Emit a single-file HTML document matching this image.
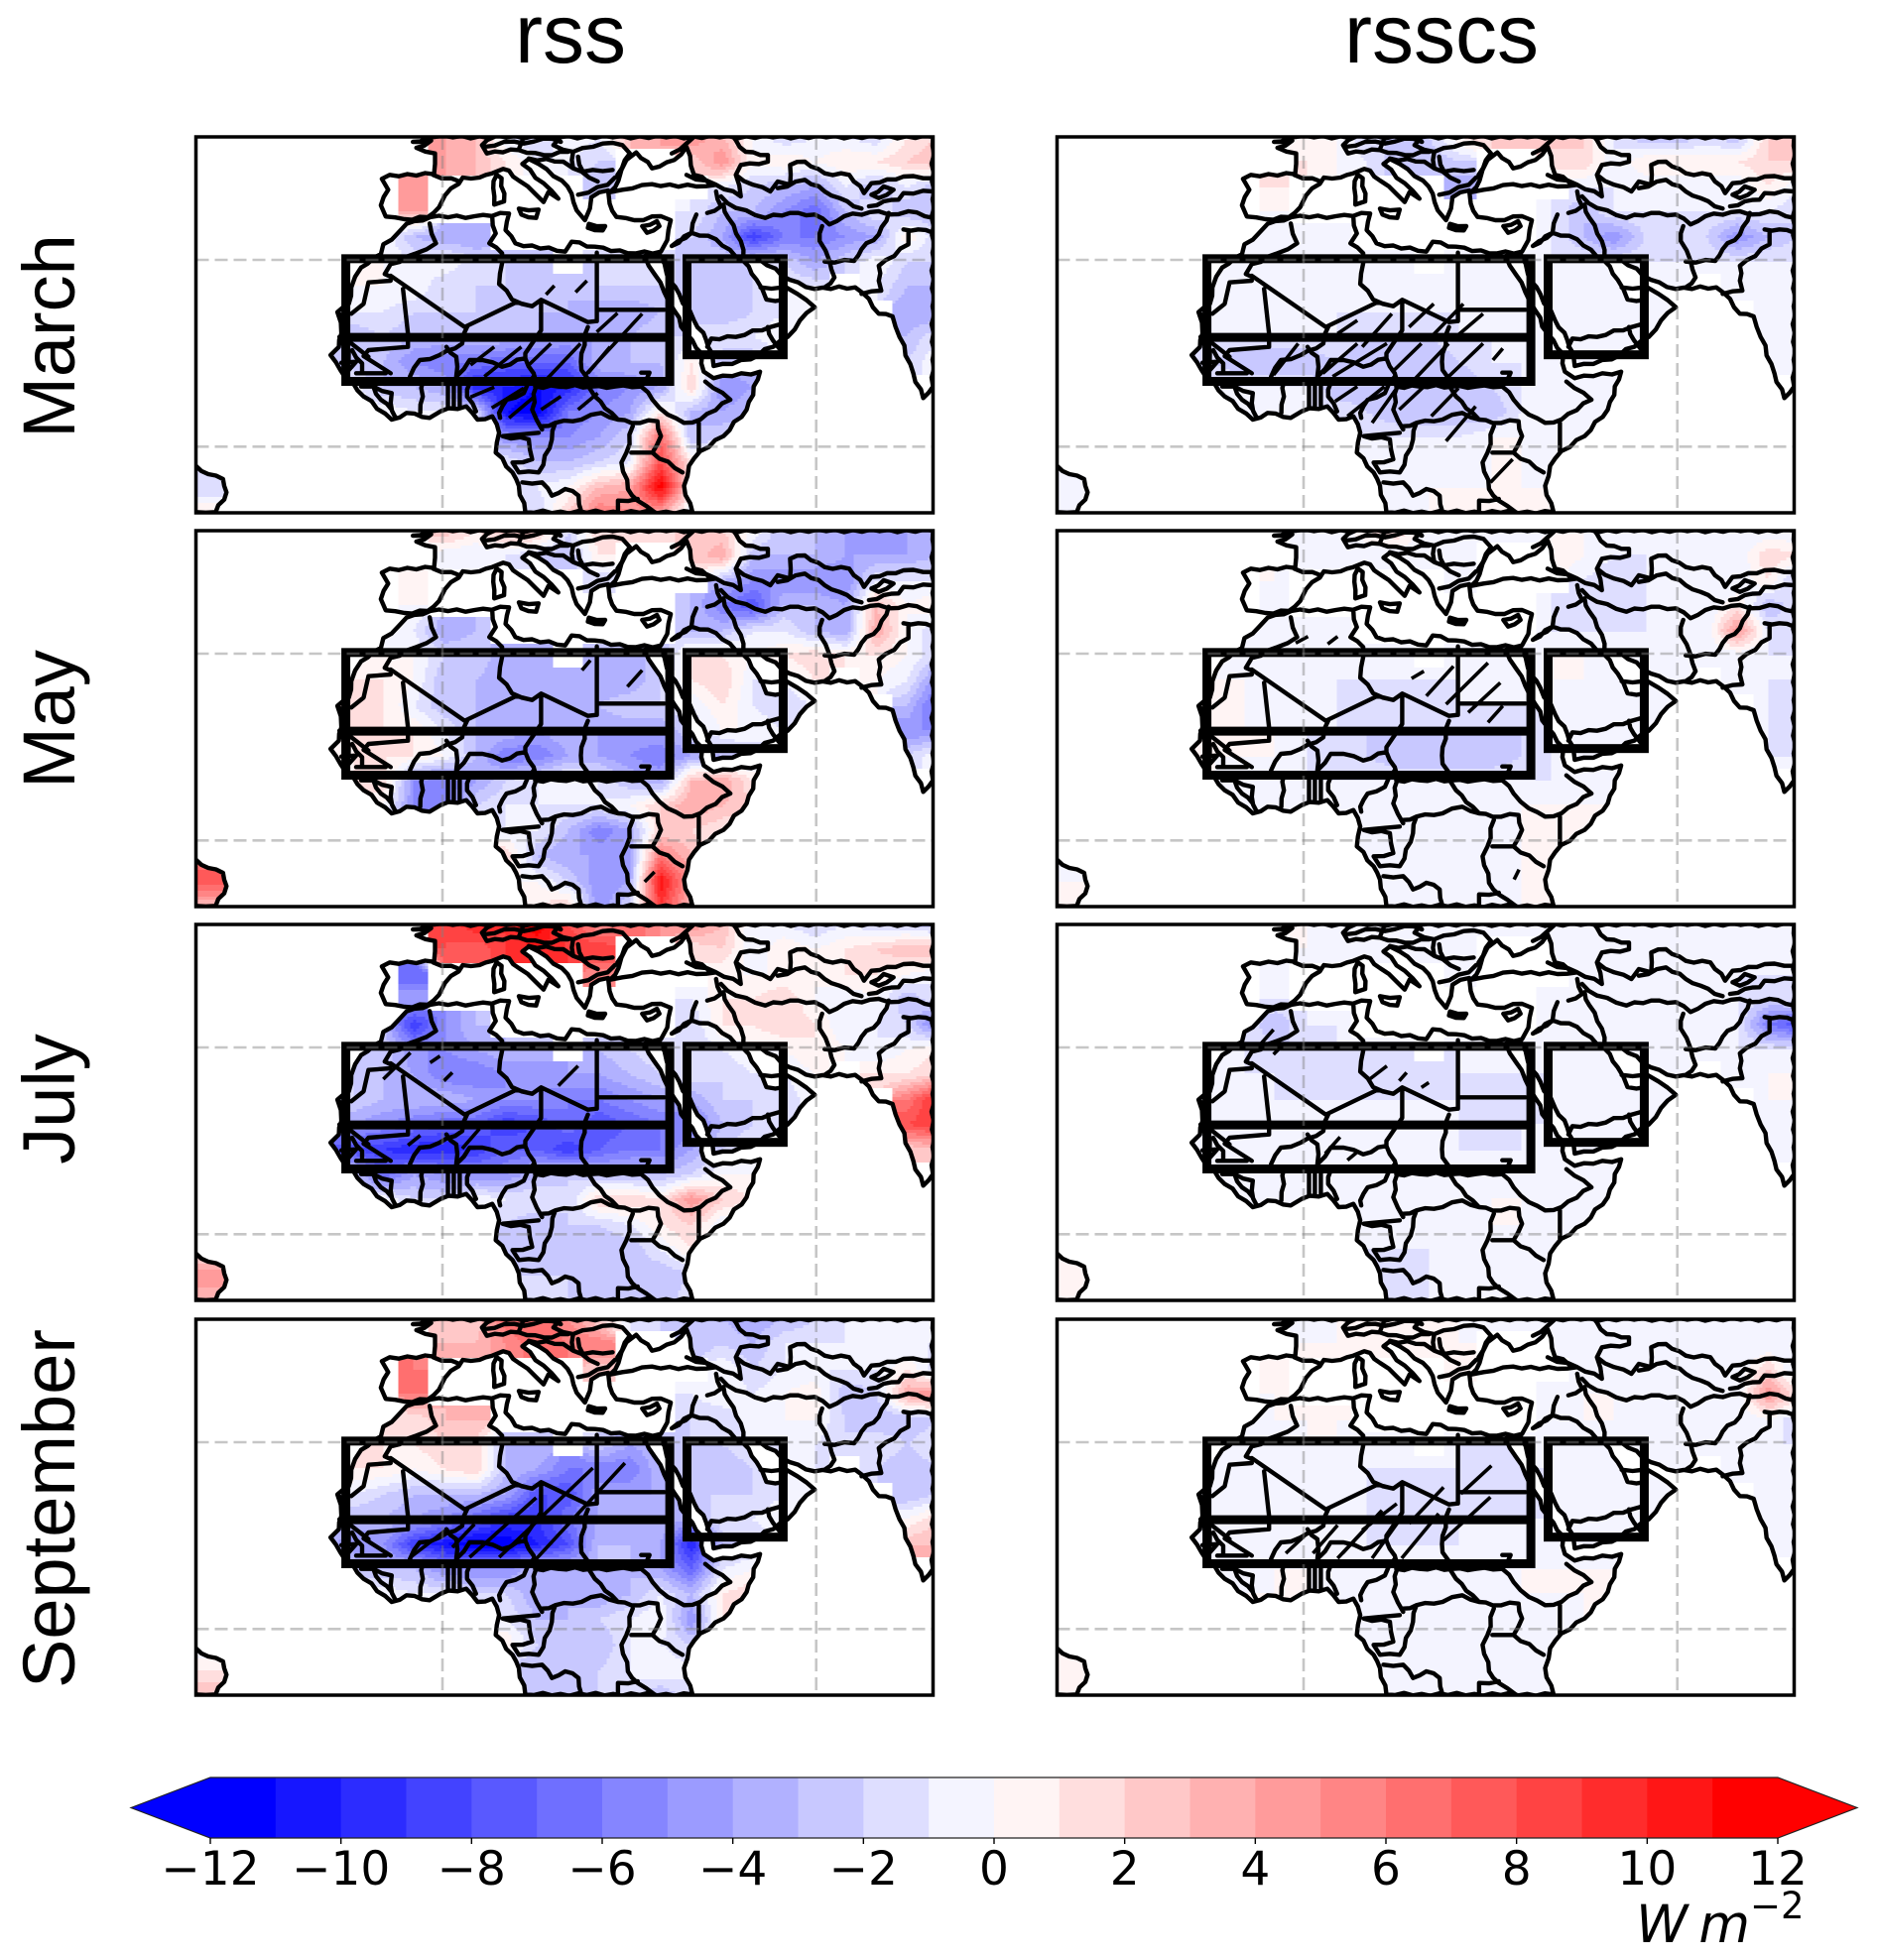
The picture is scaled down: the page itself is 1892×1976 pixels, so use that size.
<!DOCTYPE html>
<html lang="en">
<head>
<meta charset="utf-8">
<title>rss and rsscs seasonal anomaly maps</title>
<style>
html,body{margin:0;padding:0;background:#fff;}
svg{display:block;}
.title{font-family:"Liberation Sans",sans-serif;font-size:84px;fill:#000;text-anchor:middle;}
.rowlab{font-family:"Liberation Sans",sans-serif;font-size:74px;fill:#000;text-anchor:middle;}
.tick{font-family:"DejaVu Sans",sans-serif;font-size:47px;fill:#000;text-anchor:middle;}
</style>
</head>
<body>
<svg id="figure" xmlns="http://www.w3.org/2000/svg" width="1892" height="1976" viewBox="0 0 1892 1976">
  <rect x="0" y="0" width="1892" height="1976" fill="#fff"/>
  <text class="title" x="575" y="63">rss</text>
  <text class="title" x="1453" y="63">rsscs</text>
  <text class="rowlab" transform="translate(75,339) rotate(-90)">March</text>
  <text class="rowlab" transform="translate(75,725) rotate(-90)">May</text>
  <text class="rowlab" transform="translate(75,1108) rotate(-90)">July</text>
  <text class="rowlab" transform="translate(75,1521) rotate(-90)">September</text>
  <g id="panels"></g>
  <g id="colorbar"></g>
  <text x="1649" y="1958" font-family="DejaVu Sans, sans-serif" font-size="53" fill="#000"><tspan font-style="italic">W</tspan><tspan font-style="italic" dx="11">m</tspan><tspan dy="-24" font-size="37">−2</tspan></text>
</svg>
<script>
const N = null;

/* ---------- gridded anomaly fields, W m-2 (rows north to south, columns west to east) ---------- */
const rssMarch = [
[N,N,N,N,4,3,-1,-2,0,-1,3,4,5,3,0,-2,-1,-1,-2,1,2],
[N,N,N,N,4,3,1,-1,-1,-2,N,N,2,5,0,1,0,1,1,2,3],
[N,N,N,4,N,N,N,N,N,-3,N,N,N,-1,-2,-3,-4,-1,-3,-1,-3],
[N,N,N,4,N,N,N,N,N,N,N,N,-1,-3,-3,-5,-7,-3,-1,-3,-3],
[N,N,0,-3,-4,-4,N,N,N,N,N,N,-2,-4,-9,-6,-6,-5,-4,1,-2],
[N,0,0,-1,0,-2,-2,-3,N,-2,-2,-1,-3,-2,-2,-2,-4,-2,0,-2,-2],
[0,0,0,0,-2,-2,-2,-3,-3,-2,-2,-2,-2,-3,-2,-1,-1,N,-1,-3,-3],
[-1,-1,-1,-2,-2,-2,-3,-3,-3,-4,-4,-3,-2,-3,-2,-1,-1,N,N,-4,-4],
[-3,-3,-2,-3,-3,-3,-3,-3,-4,-4,-3,-2,-2,-1,-1,0,N,N,N,-3,-1],
[-3,-3,-3,-5,-6,-6,-7,-7,-7,-3,-3,-3,1,-3,-3,N,N,N,N,-2,0],
[0,0,-3,-3,-4,-10,-10,-11,-10,-6,-5,-4,2,-5,-4],
[N,N,0,-1,-1,-1,-11,-12,-6,-5,-4,1,-3,-4,-3],
[N,N,N,N,N,-1,-5,-5,-5,-4,-2,7,-3,-2,-1],
[-2,N,N,N,N,N,-1,-3,-3,-2,-1,8,1,-1],
[-2,N,N,N,N,N,-1,-1,0,3,4,12,1,1],
[1,N,N,N,N,N,-1,-2,2,6,5,4,-1,-1]
];
const rssMay = [
[N,N,N,N,3,1,3,3,-2,2,2,1,3,2,0,-3,-3,-4,-5,-4,-3],
[N,N,N,1,-1,-1,-1,-2,-3,1,N,N,2,4,-3,-3,-3,-4,-4,-4,-3],
[N,N,N,0,N,N,N,N,N,-2,N,N,N,-3,-5,-5,-5,-5,-1,-1,-1],
[N,N,N,0,N,N,N,N,N,N,N,N,-3,-6,-8,-3,-3,-4,3,0,1],
[N,N,0,-1,-4,-3,N,N,N,N,N,N,-3,-3,-1,-1,-3,-4,4,0,-2],
[N,1,0,0,-2,-2,-4,-4,N,-3,-3,-3,1,1,0,1,2,1,1,0,-2],
[1,1,1,0,-3,-3,-4,-4,-3,-4,-4,-2,1,2,-1,-1,1,N,0,-1,-5],
[1,1,1,-1,-3,-3,-4,-4,-4,-3,-2,-2,-1,1,-1,-2,-1,N,N,-3,-7],
[1,1,1,1,-1,-3,-3,-4,-3,-4,-4,-4,-2,0,0,-1,0,N,N,-5,-5],
[0,1,1,1,0,-3,-6,-6,-4,-4,-5,-6,-4,-3,-2,N,N,N,N,-2,0],
[1,1,2,-5,-6,-4,-2,-1,0,-1,-3,-4,3,4,1],
[N,N,0,-5,-6,-2,-1,-1,-1,-1,0,2,4,3,2],
[N,N,N,N,N,-1,-1,-1,-3,-6,-4,2,2,1,0],
[6,N,N,N,N,2,2,-3,-4,-4,-4,6,3,1],
[8,N,N,N,N,N,0,0,-2,-5,-4,11,4,1],
[3,N,N,N,N,N,1,1,2,-5,-2,9,3,1]
];
const rssJuly = [
[N,N,N,N,8,10,9,12,8,5,7,5,5,3,-1,-1,-2,-1,-2,-2,-3],
[N,N,N,N,8,7,9,10,9,9,N,N,1,2,-1,1,0,1,2,3,3],
[N,N,N,-7,N,N,N,N,N,5,N,N,N,0,0,0,0,1,1,0,-1],
[N,N,N,-4,N,N,N,N,N,N,N,N,-1,1,1,2,0,-1,0,-3,-1],
[N,N,-3,-9,-5,-3,N,N,N,N,N,N,-2,1,1,2,1,-1,-1,-2,-6],
[N,-2,-2,-5,-5,-4,-3,-3,N,-3,-2,-1,-2,-1,0,0,1,0,-1,0,1],
[-2,-2,-3,-4,-6,-6,-5,-5,-4,-4,-3,-2,-1,-2,-1,-1,0,N,1,1,2],
[-2,-2,-3,-3,-3,-4,-5,-5,-6,-6,-5,-4,-4,-2,-2,-2,0,N,N,6,10],
[-4,-4,-5,-6,-7,-7,-9,-8,-6,-8,-7,-6,-6,-3,-2,-1,-1,N,N,8,9],
[-8,-8,-9,-10,-10,-9,-7,-7,-9,-7,-6,-6,-4,-2,-1,N,N,N,N,2,3],
[-1,-2,-7,-4,-5,-5,-5,-3,-2,-3,-3,-3,-2,0,0],
[N,N,0,-2,-2,0,-1,-1,-2,2,2,1,5,2,1],
[N,N,N,N,N,N,-2,-3,-2,-2,-1,1,2,-1,-1],
[1,N,N,N,N,N,-3,-3,-3,-3,-3,-1,1,-1],
[5,N,N,N,N,N,-2,-2,-2,-3,-2,-3,-2,-1],
[3,N,N,N,N,N,-2,-2,-2,-2,-2,-3,-1,-1]
];
const rssSeptember = [
[N,N,N,N,2,2,7,7,5,2,-1,-2,-2,-3,-4,-3,-2,-1,-1,-1,-1],
[N,N,N,N,3,3,5,7,6,6,N,N,-3,-2,-3,-1,-1,-1,-1,-1,-1],
[N,N,N,6,N,N,N,N,N,2,N,N,N,0,-2,-1,-1,-1,-1,1,-2],
[N,N,N,6,N,N,N,N,N,N,N,N,-1,0,-1,0,1,-3,-2,4,5],
[N,N,1,1,3,3,N,N,N,N,N,N,-2,-2,0,0,0,-2,-3,-3,-2],
[N,1,1,1,2,2,-3,-3,N,-2,-4,-3,-2,-2,-1,-1,-1,-2,-1,-2,-1],
[1,1,1,0,1,2,-3,-4,-6,-6,-6,-3,-2,-3,-2,-1,-1,N,-2,-3,-2],
[-1,-1,-2,-3,-3,-3,-4,-8,-8,-4,-4,-4,-2,-2,-2,-1,-1,N,N,-3,-2],
[-3,-3,-3,-4,-5,-7,-9,-9,-6,-4,-4,-3,-4,-1,-1,0,N,N,N,0,2],
[-3,-5,-5,-9,-11,-12,-12,-10,-8,-3,-3,-4,-10,-3,-2,N,N,N,N,3,3],
[-1,-2,-3,-3,-5,-5,-5,-3,-3,-3,-3,-4,-7,-1,0],
[N,N,0,-1,-1,-2,-2,-4,-3,-4,-3,-1,-3,1,2],
[N,N,N,N,N,N,-1,-3,-3,-2,-1,0,-5,1,1],
[-1,N,N,N,N,N,1,-2,-2,-3,-1,-1,-2,-1],
[1,N,N,N,N,N,-3,-3,-3,-2,-1,0,-1,-1],
[3,N,N,N,N,N,-3,-3,-2,-2,-1,-3,-1,-1]
];
const rsscsMarch = [
[N,N,N,N,0,0,-2,-2,-2,1,2,3,3,2,-1,-3,-3,-2,-3,2,3],
[N,N,N,N,1,0,-1,-3,-3,-2,N,N,1,2,-1,1,1,1,1,2,2],
[N,N,N,1,N,N,N,N,N,-4,N,N,N,-1,-1,-1,-1,-1,-1,1,-1],
[N,N,N,0,N,N,N,N,N,N,N,N,-1,-3,-1,-1,-1,-1,-1,-1,-2],
[N,N,-1,-1,-1,-1,N,N,N,N,N,N,-1,-3,-5,-2,-1,-2,-5,-3,-2],
[N,-1,-1,-1,-1,-1,-1,-1,N,-1,-1,-1,-1,-1,-1,-1,-1,-1,-1,-1,-1],
[-1,-1,-1,-1,-1,-1,-1,-1,-1,-1,-1,-1,-1,-1,-1,-1,-1,N,-1,-1,-1],
[-1,-1,-1,-1,-1,-1,-1,-1,-1,-1,-1,-1,-1,-1,-1,-1,-1,N,N,-1,-1],
[-1,-1,-1,-1,-1,-1,-2,-2,-2,-1,-1,-1,-1,-1,-1,-1,-1,N,N,-1,-1],
[-2,-2,-3,-3,-3,-2,-3,-3,-3,-2,-1,-1,-1,-1,-1,N,N,N,N,-1,-1],
[-1,-1,-1,-1,-1,-3,-3,-2,-3,-3,-2,-1,0,-1,-1],
[N,N,-1,-1,-1,-1,-2,-3,-3,-3,-3,-1,-1,-1,-1],
[N,N,N,N,N,N,-1,-1,-1,-1,0,0,-1,-1,-1],
[-1,N,N,N,N,N,-1,-1,-1,-1,0,0,-1,-1],
[-1,N,N,N,N,N,-1,-1,0,0,0,0,0,0],
[-1,N,N,N,N,N,-1,-1,0,0,0,0,0,0]
];
const rsscsMay = [
[N,N,N,N,-1,-1,1,2,-1,-1,-1,-1,0,0,-1,-1,-1,-1,-1,-1,-1],
[N,N,N,0,-1,-1,-1,-1,-1,-1,N,N,1,0,-1,-1,-1,-1,-1,2,1],
[N,N,N,0,N,N,N,N,N,-1,N,N,N,-1,-2,-1,-1,-1,-1,1,-3],
[N,N,N,-1,N,N,N,N,N,N,N,N,-1,-2,-2,-1,-1,-1,1,-3,-1],
[N,N,-1,-1,-1,-1,N,N,N,N,N,N,-1,-1,-1,-1,-1,-1,5,-1,-2],
[N,-1,-1,-1,-1,-1,-1,-1,N,-1,-1,-1,0,0,0,-1,-1,-1,-1,-1,-1],
[0,0,0,-1,-1,-1,-1,-1,-1,-1,-1,-1,0,0,-1,-1,-1,N,-1,-1,-1],
[0,0,0,-1,-1,-1,-2,-2,-2,-1,-1,-1,-1,0,-1,-1,-1,N,N,-1,-2],
[0,0,0,0,-1,-1,-2,-2,-2,-2,-2,-2,-1,-1,-1,-1,-1,N,N,-1,-2],
[0,0,0,0,-1,-2,-2,-3,-3,-3,-3,-2,-1,-1,-1,N,N,N,N,-1,-1],
[0,0,-1,-1,-1,-1,-1,-1,-1,-1,-1,-1,-1,-1,-1],
[N,N,-1,-1,-1,-1,-1,0,-1,-1,-1,0,0,0,0],
[N,N,N,N,N,N,-1,0,-1,-1,-1,0,0,0,0],
[-1,N,N,N,N,N,0,-1,-1,-1,-1,0,0,0],
[0,N,N,N,N,N,-1,-1,-1,-1,-1,0,0,0],
[0,N,N,N,N,N,-1,0,-1,-1,0,0,0,0]
];
const rsscsJuly = [
[N,N,N,N,0,0,0,-1,-1,-1,0,-1,-1,0,-1,-1,-1,-1,-1,-1,-1],
[N,N,N,N,0,-1,-1,-1,-1,-1,N,N,-1,-1,-1,-1,-1,-1,-1,-1,-1],
[N,N,N,-1,N,N,N,N,N,-1,N,N,N,-1,-1,-1,-1,-1,-1,-1,-1],
[N,N,N,-1,N,N,N,N,N,N,N,N,-1,-1,-1,0,-1,0,-1,-2,-1],
[N,N,-1,-3,-1,-1,N,N,N,N,N,N,-1,-1,0,-1,-1,-1,-1,-6,-8],
[N,-1,-1,-2,-2,-1,-1,-1,N,-1,-1,-1,-1,-1,-1,-1,-1,-1,-1,-1,-1],
[-1,-1,-1,-1,-2,-2,-1,-2,-2,-1,-1,-1,-1,-1,-1,-1,-1,N,-1,0,0],
[-1,-1,-1,-1,-1,-1,-1,-1,-1,-1,-2,-2,-1,-1,-1,-1,-1,N,N,0,0],
[-1,-1,-1,-1,-1,-1,-1,-1,-1,-1,-2,-1,-1,-1,-1,-1,-1,N,N,-1,0],
[-1,-1,-1,-1,-1,-1,-1,-1,-1,-1,-1,-1,-1,-1,-1,N,N,N,N,-1,-1],
[-1,-1,-1,-1,-1,-1,0,-1,-1,-1,-1,-1,-1,-1,-1],
[N,N,-1,-1,-1,0,0,-1,-1,-1,0,0,-1,-1,-1],
[N,N,N,N,N,N,-1,-1,-1,-1,0,0,0,-1,-1],
[0,N,N,N,N,N,-1,-1,-1,-1,-1,-1,-1,-1],
[0,N,N,N,N,N,-1,-2,-1,-1,-1,-1,-1,-1],
[0,N,N,N,N,N,-1,-1,-1,-1,-1,-1,-1,-1]
];
const rsscsSeptember = [
[N,N,N,N,-1,0,0,0,0,0,-1,-1,-1,-1,-1,-1,-1,0,-1,0,-1],
[N,N,N,N,0,0,0,0,0,0,N,N,-1,-1,-1,0,-1,-1,-1,-1,-1],
[N,N,N,0,N,N,N,N,N,0,N,N,N,-1,0,-1,-1,-1,-1,2,-2],
[N,N,N,0,N,N,N,N,N,N,N,N,-1,0,0,-1,-1,-1,-1,5,1],
[N,N,-1,0,0,0,N,N,N,N,N,N,-1,0,0,-1,-1,-1,-1,0,-2],
[N,-1,-1,-1,0,0,-1,-1,N,-1,-1,-1,-1,-1,-1,-1,-1,-1,-1,-1,-1],
[-1,0,0,-1,-1,-1,-1,-1,-1,-1,-2,-1,-1,-1,-1,-1,-1,N,-1,0,0],
[-1,-1,-1,-1,-1,-1,-1,-2,-2,-2,-2,-2,-1,-1,-1,-1,-1,N,N,-1,-1],
[-1,-1,-1,-1,-1,-1,-1,-2,-2,-1,-1,-1,-1,-1,-1,-1,N,N,N,-1,-1],
[-1,-1,-1,-1,-1,-1,-1,-1,-1,-1,-1,-1,-1,-1,-1,N,N,N,N,-1,-1],
[0,0,-1,0,0,-1,-1,-1,-1,-1,-1,0,0,0,0],
[N,N,0,0,0,-1,-1,-1,-1,-1,-1,0,0,0,0],
[N,N,N,N,N,N,-1,-1,-1,-1,-1,-1,-1,0,0],
[0,N,N,N,N,N,0,-1,-1,-1,-1,-1,-1,-1],
[0,N,N,N,N,N,-1,-1,-1,-1,0,-1,-1,-1],
[0,N,N,N,N,N,-1,-1,-1,-1,-1,-1,-1,-1]
];

/* ---------- significance hatching, map units [x1,y1,x2,y2] ---------- */
const hatchRssMarch = [[762,505,745,532],[828,490,805,525],[890,588,848,645],[940,590,825,775],[640,690,592,745],[695,690,620,780],[755,680,710,745],[815,680,745,790],[875,690,830,770],[640,812,592,842],[700,815,635,875],[722,840,670,905],[775,840,735,880],[850,830,810,880]];
const hatchRssMay = [[835,447,818,477],[940,477,910,527],[965,1087,945,1117]];
const hatchRssJuly = [[530,453,510,473],[555,503,538,528],[810,483,770,543],[470,443,415,523],[490,693,465,723],[610,673,575,733]];
const hatchRssSeptember = [[905,490,725,780],[840,505,650,775],[725,595,590,775],[600,675,555,745],[540,695,470,775]];
const hatchRsscsMarch = [[644,610,604,650],[714,590,654,690],[799,560,749,630],[859,560,794,660],[899,590,844,660],[524,680,474,775],[644,680,574,770],[704,680,594,780],[774,680,719,760],[829,680,759,790],[899,680,829,780],[939,695,919,730],[644,810,599,855],[699,810,624,900],[724,815,674,920],[779,810,729,880],[849,815,794,900],[884,870,824,975],[959,1030,914,1100]];
const hatchRsscsMay = [[544,375,519,395],[604,375,584,398],[779,480,754,502],[839,465,784,555],[909,455,824,580],[934,515,869,605],[939,585,909,635],[972,1080,962,1110]];
const hatchRsscsJuly = [[474,373,444,423],[484,433,474,448],[704,483,669,523],[744,503,729,528],[789,533,774,548],[609,698,579,748],[644,743,624,768]];
const hatchRsscsSeptember = [[916,498,854,583],[819,563,749,673],[724,613,654,693],[694,633,614,763],[914,593,819,723],[809,643,734,778],[604,678,554,763],[664,683,604,778],[734,653,674,778],[549,693,499,763]];

/* ---------- panel layout, colour levels, ticks ---------- */
const monthNames = ['march','may','july','september'];
const variableNames = ['rss','rsscs'];
const panelFields = [[rssMarch,rsscsMarch],[rssMay,rsscsMay],[rssJuly,rsscsJuly],[rssSeptember,rsscsSeptember]];
const panelHatch = [[hatchRssMarch,hatchRsscsMarch],[hatchRssMay,hatchRsscsMay],[hatchRssJuly,hatchRsscsJuly],[hatchRssSeptember,hatchRsscsSeptember]];
const colorLevels = [-12,-11,-10,-9,-8,-7,-6,-5,-4,-3,-2,-1,0,1,2,3,4,5,6,7,8,9,10,11];
const tickValues = [-12,-10,-8,-6,-4,-2,0,2,4,6,8,10,12];

/* ---------- map geometry in map units ---------- */
const landOutline = [[520,55],[475,70],[512,66],[482,88],[520,105],[518,168],[428,170],[412,182],[425,215],[410,262],[420,296],[458,304],[505,298],[528,268],[540,232],[568,197],[576,178],[610,178],[636,165],[658,152],[670,157],[690,187],[723,227],[740,252],[750,222],[770,242],[740,195],[697,137],[710,122],[730,137],[777,187],[797,227],[807,277],[824,307],[834,272],[837,237],[871,217],[874,257],[888,297],[924,307],[978,295],[998,307],[991,367],[978,402],[911,407],[844,387],[797,372],[784,402],[683,377],[663,337],[670,287],[600,295],[510,298],[462,318],[445,345],[415,380],[410,410],[370,450],[350,510],[345,560],[322,585],[330,650],[325,690],[308,715],[328,760],[375,840],[432,910],[462,890],[509,905],[531,885],[583,870],[606,910],[636,900],[650,950],[643,1010],[677,1070],[690,1110],[703,1190],[1042,1190],[1025,1110],[1035,1050],[1058,1005],[1105,960],[1152,880],[1179,765],[1085,785],[1065,765],[1060,740],[1062,712],[1030,650],[1005,580],[985,525],[965,470],[945,415],[975,410],[990,470],[1015,530],[1045,610],[1070,670],[1082,710],[1085,748],[1160,728],[1235,660],[1260,610],[1290,570],[1255,530],[1232,510],[1228,547],[1192,547],[1172,487],[1145,430],[1179,427],[1239,487],[1290,515],[1372,510],[1400,545],[1420,590],[1448,598],[1462,660],[1490,770],[1510,845],[1530,810],[1530,55]];
const blackSeaOutline = [[875,222],[892,187],[908,125],[928,102],[960,150],[1005,125],[1030,85],[1045,170],[1090,200],[1050,205],[960,198],[900,215]];
const southAmericaOutline = [[35,1050],[60,1075],[90,1090],[97,1130],[75,1190],[35,1190]];
const islandOutlines = [
[[645,170],[655,180],[660,250],[640,260],[638,210],[645,170]],
[[690,272],[730,275],[725,300],[695,290],[690,272]],
[[832,318],[865,325],[860,338],[830,330],[832,318]],
[[940,325],[970,310],[975,325],[950,345],[940,325]]
];
const borderLines = [
[[516,170],[570,190]],
[[640,55],[615,80],[625,105],[690,95],[740,110],[790,100]],
[[700,55],[690,92]],
[[620,85],[660,70],[700,75],[740,60],[775,70]],
[[775,55],[760,80],[800,100],[860,75],[900,80],[915,105],[890,170]],
[[800,100],[800,150],[850,190]],
[[810,115],[820,160],[880,155]],
[[810,230],[870,200],[885,178]],
[[710,120],[780,130],[800,150]],
[[1000,105],[1030,75],[1045,55]],
[[1030,170],[1090,200],[1140,235],[1130,170],[1140,140],[1195,130],[1195,110],[1150,100],[1130,65],[1125,55]],
[[1130,170],[1165,200],[1200,220],[1215,190],[1240,200],[1240,140],[1270,130],[1310,165],[1360,170],[1390,225],[1405,195],[1470,175],[1530,180]],
[[1215,210],[1270,185],[1310,220],[1340,240],[1385,272]],
[[1405,230],[1430,205],[1450,215],[1420,240],[1405,230]],
[[1530,220],[1470,225],[1460,245],[1430,250],[1400,265]],
[[1072,285],[1100,265],[1090,220]],
[[1105,260],[1115,300],[1140,370],[1145,425]],
[[1100,235],[1130,270],[1190,300],[1240,285],[1290,290],[1320,320],[1350,295],[1420,280],[1440,290]],
[[1305,325],[1300,370],[1320,430],[1330,480],[1310,510]],
[[1310,432],[1370,430],[1385,395],[1420,350],[1440,285]],
[[1440,290],[1480,280],[1530,300]],
[[1470,335],[1500,335],[1530,345]],
[[1480,340],[1480,380],[1420,445],[1420,490],[1425,520],[1385,530]],
[[1050,290],[1040,345],[1000,385]],
[[1000,385],[1040,345],[1090,365],[1145,430]],
[[1072,690],[1080,665],[1130,660],[1200,630],[1225,620]],
[[1195,630],[1205,670],[1218,695]],
[[1180,510],[1225,510]],
[[636,297],[643,347],[630,377],[656,407],[656,437],[650,500],[676,547],[717,567]],
[[509,317],[522,377],[482,407],[430,440],[418,470],[430,478]],
[[585,630],[575,680],[529,715],[489,730],[469,780]],
[[543,690],[563,720],[563,780]],
[[563,780],[590,730],[616,730],[656,750],[703,725],[720,770],[725,810],[717,880],[737,940]],
[[830,630],[817,710],[817,760],[844,840],[878,890],[891,910],[918,920],[971,915],[978,960],[961,1010],[1022,1070]],
[[723,810],[770,810],[837,810],[884,810],[938,810],[961,850],[992,895],[1025,920],[1058,910],[1119,850],[1068,795]],
[[921,930],[908,1010],[898,1040],[911,1120],[931,1155],[965,1190]],
[[737,930],[764,920],[817,910],[857,890],[891,910]],
[[764,920],[757,970],[730,1070],[690,1070]],
[[657,960],[710,970],[717,1030],[677,1040],[690,1070]],
[[697,1100],[737,1100],[757,1140],[784,1120],[811,1140],[817,1190]],
[[891,1190],[891,1155],[931,1150]],
[[720,780],[700,830],[665,850],[650,890],[652,905]],
[[496,790],[490,890]],
[[432,830],[430,860],[440,905]],
[[370,810],[395,810],[432,830]],
[[395,810],[410,850],[432,880]],
[[590,800],[585,840],[603,885]],
[[938,768],[955,768],[950,785]],
[[326,660],[345,700],[340,760]],
[[352,700],[372,740],[372,770]],
[[322,585],[340,610],[330,650]]
];
const straightBorderLines = [
[[430,475],[580,630],[685,555],[717,567],[735,548],[830,615],[848,612],[848,405]],
[[848,578],[985,578]],
[[455,515],[465,650],[465,690],[385,700],[375,718],[430,770]],
[[350,590],[375,560],[385,495],[430,490]],
[[350,680],[385,720]],
[[330,738],[360,735],[345,760]],
[[360,770],[420,770]],
[[735,548],[735,640],[703,710],[703,725]],
[[1055,920],[1055,1010]],
[[918,1010],[961,1010]],
[[657,960],[730,950]],
[[546,790],[546,875]],[[558,790],[558,872]],[[570,790],[570,870]]
];
const box1 = [339,423.5,996,794.5];
const box1Divider = 661.5;
const box2 = [1031,423.5,1226,714];
const gridLatitudes = [427,992];
const gridLongitudes = [535,1293];

/* ---------- axis functions ---------- */
const PANEL_W = 743, PANEL_H = 379;
const panelLefts = [197.5,1065.5];
const panelTops = [138,535,932,1330];
const wigglePattern = [1.3,-1.1,0.6,-1.5,1.0,-0.5];
function px(z){ return (z-35)*PANEL_W/1495; }
function py(z){ return (z-55)/3; }
function toPath(pts,close){
  let d='';
  for(let i=0;i<pts.length;i++){ d+=(i?'L':'M')+px(pts[i][0]).toFixed(1)+' '+py(pts[i][1]).toFixed(1); }
  return d+(close?'Z':'');
}
function toWigglyPath(pts,close){
  const list=close?pts.concat([pts[0]]):pts;
  let d='M'+px(list[0][0]).toFixed(1)+' '+py(list[0][1]).toFixed(1);
  let w=0;
  for(let i=1;i<list.length;i++){
    const x0=px(list[i-1][0]),y0=py(list[i-1][1]),x1=px(list[i][0]),y1=py(list[i][1]);
    const L=Math.hypot(x1-x0,y1-y0);
    const n=Math.max(1,Math.round(L/9));
    const ux=(x1-x0)/(L||1),uy=(y1-y0)/(L||1);
    for(let k=1;k<n;k++){
      const o=wigglePattern[w++%wigglePattern.length];
      d+='L'+(x0+(x1-x0)*k/n-uy*o).toFixed(1)+' '+(y0+(y1-y0)*k/n+ux*o).toFixed(1);
    }
    d+='L'+x1.toFixed(1)+' '+y1.toFixed(1);
  }
  return d;
}
function valueAt(field,zx,zy){
  const fx=Math.max(0,Math.min(20,(zx-290)/62.5));
  const fy=Math.max(0,Math.min(15,(zy-55)/75.667));
  const i0=Math.min(19,Math.floor(fx)), j0=Math.min(14,Math.floor(fy));
  const tx=fx-i0, ty=fy-j0;
  const get=function(i,j){ const r=field[j]; const v=r?r[i]:null; return v===undefined?null:v; };
  const near=get(i0+(tx>=.5?1:0),j0+(ty>=.5?1:0));
  if(near===null) return null;
  const corners=[[get(i0,j0),(1-tx)*(1-ty)],[get(i0+1,j0),tx*(1-ty)],[get(i0,j0+1),(1-tx)*ty],[get(i0+1,j0+1),tx*ty]];
  let s=0,w=0;
  for(const c of corners){ if(c[0]!==null){ s+=c[0]*c[1]; w+=c[1]; } }
  return w>0?s/w:null;
}
function levelColor(k){
  if(k<-12) return '#0000ff';
  if(k>=12) return '#ff0000';
  const t=(k+12)/23;
  if(t<.5){ const c=Math.round(255*2*t); return 'rgb('+c+','+c+',255)'; }
  const c=Math.round(255*2*(1-t));
  return 'rgb(255,'+c+','+c+')';
}
function svgEl(tag){ return document.createElementNS('http://www.w3.org/2000/svg',tag); }

/* ---------- shared land clip ---------- */
const svg=document.getElementById('figure');
const defs=svgEl('defs');
const clip=svgEl('clipPath');
clip.setAttribute('id','land-clip');
const clipShape=svgEl('path');
clipShape.setAttribute('clip-rule','evenodd');
clipShape.setAttribute('d',toPath(landOutline,true)+toPath(blackSeaOutline,true)+toPath(southAmericaOutline,true));
clip.appendChild(clipShape);
defs.appendChild(clip);
const frameClip=svgEl('clipPath');
frameClip.setAttribute('id','frame-clip');
const frameClipRect=svgEl('rect');
frameClipRect.setAttribute('width',PANEL_W);
frameClipRect.setAttribute('height',PANEL_H);
frameClip.appendChild(frameClipRect);
defs.appendChild(frameClip);
svg.insertBefore(defs,svg.firstChild);

/* ---------- draw panels ---------- */
const panelsRoot=document.getElementById('panels');
const STEP=3;
function drawField(parent,field){
  const g=svgEl('g');
  
  
  g.setAttribute('clip-path','url(#land-clip)');
  g.setAttribute('shape-rendering','crispEdges');
  const bands={};
  for(let iy=0;iy<PANEL_H;iy+=STEP){
    let runStart=0,runK=null;
    const flush=function(end){
      if(runK!==null){
        bands[runK]=(bands[runK]||'')+'M'+runStart+' '+iy+'H'+end+'V'+(iy+STEP)+'H'+runStart+'Z';
      }
    };
    for(let ix=0;ix<PANEL_W;ix+=STEP){
      const zx=35+(ix+STEP/2)*1495/PANEL_W, zy=55+(iy+STEP/2)*3;
      const v=valueAt(field,zx,zy);
      const k=v===null?null:Math.max(-13,Math.min(12,Math.floor(v+1e-6)));
      if(k!==runK){ flush(ix); runStart=ix; runK=k; }
    }
    flush(PANEL_W);
  }
  Object.keys(bands).forEach(function(key){
    const p=svgEl('path');
    
    
    p.setAttribute('d',bands[key]);
    p.setAttribute('fill',levelColor(Number(key)));
    g.appendChild(p);
  });
  parent.appendChild(g);
}
function drawHatch(parent,segments){
  const g=svgEl('g');
  
  
  segments.forEach(function(s){
    const l=svgEl('line');
    
    
    l.setAttribute('x1',px(s[0]));
    l.setAttribute('y1',py(s[1]));
    l.setAttribute('x2',px(s[2]));
    l.setAttribute('y2',py(s[3]));
    l.setAttribute('stroke','#000');
    l.setAttribute('stroke-width','3.6');
    g.appendChild(l);
  });
  parent.appendChild(g);
}
function drawGeography(parent){
  let d=toWigglyPath(landOutline,true)+toWigglyPath(blackSeaOutline,true)+toWigglyPath(southAmericaOutline,false);
  islandOutlines.forEach(function(o){ d+=toWigglyPath(o,false); });
  borderLines.forEach(function(o){ d+=toWigglyPath(o,false); });
  straightBorderLines.forEach(function(o){ d+=toPath(o,false); });
  const p=svgEl('path');
  
  
  p.setAttribute('d',d);
  p.setAttribute('fill','none');
  p.setAttribute('stroke','#000');
  p.setAttribute('stroke-width','4.4');
  p.setAttribute('stroke-linejoin','round');
  p.setAttribute('stroke-linecap','round');
  parent.appendChild(p);
}
function drawBoxes(parent){
  const r1=svgEl('rect');
  
  
  r1.setAttribute('x',px(box1[0]));
  r1.setAttribute('y',py(box1[1]));
  r1.setAttribute('width',px(box1[2])-px(box1[0]));
  r1.setAttribute('height',py(box1[3])-py(box1[1]));
  r1.setAttribute('fill','none');
  r1.setAttribute('stroke','#000');
  r1.setAttribute('stroke-width','9');
  parent.appendChild(r1);
  const div=svgEl('line');
  
  
  div.setAttribute('x1',px(box1[0]));
  div.setAttribute('x2',px(box1[2]));
  div.setAttribute('y1',py(box1Divider));
  div.setAttribute('y2',py(box1Divider));
  div.setAttribute('stroke','#000');
  div.setAttribute('stroke-width','9');
  parent.appendChild(div);
  const r2=svgEl('rect');
  
  
  r2.setAttribute('x',px(box2[0]));
  r2.setAttribute('y',py(box2[1]));
  r2.setAttribute('width',px(box2[2])-px(box2[0]));
  r2.setAttribute('height',py(box2[3])-py(box2[1]));
  r2.setAttribute('fill','none');
  r2.setAttribute('stroke','#000');
  r2.setAttribute('stroke-width','9');
  parent.appendChild(r2);
}
function drawGrid(parent){
  const g=svgEl('g');
  
  
  g.setAttribute('stroke','#808080');
  g.setAttribute('stroke-opacity','.45');
  g.setAttribute('stroke-width','2.6');
  g.setAttribute('stroke-dasharray','13 6');
  gridLatitudes.forEach(function(z){
    const l=svgEl('line');
    
    
    l.setAttribute('x1',0);
    l.setAttribute('x2',PANEL_W);
    l.setAttribute('y1',py(z));
    l.setAttribute('y2',py(z));
    g.appendChild(l);
  });
  gridLongitudes.forEach(function(z){
    const l=svgEl('line');
    
    
    l.setAttribute('x1',px(z));
    l.setAttribute('x2',px(z));
    l.setAttribute('y1',0);
    l.setAttribute('y2',PANEL_H);
    g.appendChild(l);
  });
  parent.appendChild(g);
}
for(let r=0;r<4;r++){
  for(let c=0;c<2;c++){
    const panel=svgEl('g');
    
    
    panel.setAttribute('transform','translate('+panelLefts[c]+','+panelTops[r]+')');
    const inner=svgEl('g');
    inner.setAttribute('clip-path','url(#frame-clip)');
    drawField(inner,panelFields[r][c]);
    drawHatch(inner,panelHatch[r][c]);
    drawGeography(inner);
    drawBoxes(inner);
    drawGrid(inner);
    panel.appendChild(inner);
    const frame=svgEl('rect');
    
    
    frame.setAttribute('width',PANEL_W);
    frame.setAttribute('height',PANEL_H);
    frame.setAttribute('fill','none');
    frame.setAttribute('stroke','#000');
    frame.setAttribute('stroke-width','3.5');
    panel.appendChild(frame);
    panelsRoot.appendChild(panel);
  }
}

/* ---------- colorbar ---------- */
const cbRoot=document.getElementById('colorbar');
const CB_L=212, CB_R=1792, CB_T=1792, CB_B=1853, CB_TIP_L=132, CB_TIP_R=1872;
function cbX(v){ return CB_L+(v+12)*(CB_R-CB_L)/24; }
const lowTip=svgEl('polygon');


lowTip.setAttribute('points',CB_L+','+CB_T+' '+CB_TIP_L+','+((CB_T+CB_B)/2)+' '+CB_L+','+CB_B);
lowTip.setAttribute('fill',levelColor(-13));
cbRoot.appendChild(lowTip);
const highTip=svgEl('polygon');


highTip.setAttribute('points',CB_R+','+CB_T+' '+CB_TIP_R+','+((CB_T+CB_B)/2)+' '+CB_R+','+CB_B);
highTip.setAttribute('fill',levelColor(12));
cbRoot.appendChild(highTip);
colorLevels.forEach(function(k){
  const seg=svgEl('rect');
  
  
  seg.setAttribute('x',cbX(k));
  seg.setAttribute('y',CB_T);
  seg.setAttribute('width',cbX(k+1)-cbX(k)+.4);
  seg.setAttribute('height',CB_B-CB_T);
  seg.setAttribute('fill',levelColor(k));
  cbRoot.appendChild(seg);
});
const cbOutline=svgEl('polygon');


cbOutline.setAttribute('points',CB_TIP_L+','+((CB_T+CB_B)/2)+' '+CB_L+','+CB_T+' '+CB_R+','+CB_T+' '+CB_TIP_R+','+((CB_T+CB_B)/2)+' '+CB_R+','+CB_B+' '+CB_L+','+CB_B);
cbOutline.setAttribute('fill','none');
cbOutline.setAttribute('stroke','#222');
cbOutline.setAttribute('stroke-width','1.2');
cbRoot.appendChild(cbOutline);
tickValues.forEach(function(v){
  const t=svgEl('line');
  
  
  t.setAttribute('x1',cbX(v));
  t.setAttribute('x2',cbX(v));
  t.setAttribute('y1',CB_B);
  t.setAttribute('y2',CB_B+6);
  t.setAttribute('stroke','#000');
  t.setAttribute('stroke-width','1.4');
  cbRoot.appendChild(t);
  const lab=svgEl('text');
  
  
  lab.setAttribute('class','tick');
  lab.setAttribute('x',cbX(v));
  lab.setAttribute('y',1900);
  lab.textContent=(v<0?'\u2212':'')+Math.abs(v);
  cbRoot.appendChild(lab);
});
</script>
</body>
</html>
